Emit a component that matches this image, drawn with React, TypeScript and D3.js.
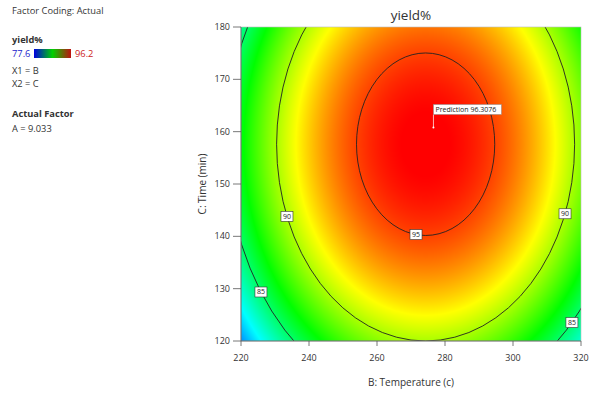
import React, { useMemo } from 'react';
import * as d3 from 'd3';

// fitted quadratic surface (A held at 9.033): yield = peak - kB*(B-B0)^2 - kC*(C-C0)^2
const peak = 96.37;
const centre = [274.3, 157.6];      // B0, C0
const curvature = [0.003316, 0.004506]; // kB, kC

const tempTicks = [220, 240, 260, 280, 300, 320];
const timeTicks = [120, 130, 140, 150, 160, 170, 180];
const contourLevels = [85, 90, 95];
// label spots along each contour (angle on the ellipse, degrees)
const contourLabels = [
  { level: 95, angle: 98 },
  { level: 90, angle: 158.5 },
  { level: 90, angle: 20.7 },
  { level: 85, angle: 145.8 },
  { level: 85, angle: 42.7 },
];
const legendRange = [77.6, 96.2];
const prediction = { B: 276.6, C: 160.8, value: '96.3076' };
const infoLines = ['X1 = B', 'X2 = C'];
const actualFactor = 'A = 9.033';

const W = 596, H = 393;
const left = 241, right = 581, top = 27, bottom = 341;
const font = '"Open Sans", "Noto Sans", sans-serif';

const x = d3.scaleLinear().domain([220, 320]).range([left, right]);
const y = d3.scaleLinear().domain([120, 180]).range([bottom, top]);

const stops = d3.range(5).map(i => legendRange[0] + i * (legendRange[1] - legendRange[0]) / 4);
const color = d3.scaleLinear<string>()
  .domain(stops)
  .range(['#0000ff', '#00ffff', '#00ff00', '#ffff00', '#ff0000'])
  .clamp(true);

function yieldAt(b: number, c: number) {
  return peak - curvature[0] * (b - centre[0]) ** 2 - curvature[1] * (c - centre[1]) ** 2;
}

export default function App() {
  const surface = useMemo(() => {
    const w = right - left, h = bottom - top;
    const canvas = document.createElement('canvas');
    canvas.width = w; canvas.height = h;
    const ctx = canvas.getContext('2d')!;
    const img = ctx.createImageData(w, h);
    for (let j = 0; j < h; j++) {
      for (let i = 0; i < w; i++) {
        const v = yieldAt(x.invert(left + i + 0.5), y.invert(top + j + 0.5));
        const c = d3.rgb(color(v));
        const k = (j * w + i) * 4;
        img.data[k] = c.r; img.data[k + 1] = c.g; img.data[k + 2] = c.b; img.data[k + 3] = 255;
      }
    }
    ctx.putImageData(img, 0, 0);
    return canvas.toDataURL();
  }, []);

  const cx = x(centre[0]), cy = y(centre[1]);
  const radii = (level: number) => {
    const d = peak - level;
    const rb = Math.sqrt(d / curvature[0]), rc = Math.sqrt(d / curvature[1]);
    return [x(centre[0] + rb) - cx, cy - y(centre[1] + rc)];
  };

  const px = x(prediction.B), py = y(prediction.C);

  return (
    <svg width={W} height={H} style={{ position: 'absolute', left: 0, top: 0 }} fontFamily={font}>
      <defs>
        <clipPath id="plot">
          <rect x={left} y={top} width={right - left} height={bottom - top} />
        </clipPath>
        <linearGradient id="leg">
          <stop offset="0%" stopColor="#0000e0" />
          <stop offset="50%" stopColor="#00d000" />
          <stop offset="100%" stopColor="#c01010" />
        </linearGradient>
      </defs>

      {/* side panel */}
      <g fill="#333" fontSize={9.3}>
        <text x={12} y={14}>Factor Coding: Actual</text>
        <text x={12} y={43} fontWeight="bold">yield%</text>
        <text x={12} y={57} fill="#2222cc">{legendRange[0]}</text>
        <rect x={34} y={49} width={37} height={9} fill="url(#leg)" />
        <text x={75} y={57} fill="#cc2222">{legendRange[1]}</text>
        {infoLines.map((t, i) => (
          <text key={t} x={12} y={74 + i * 13}>{t}</text>
        ))}
        <text x={12} y={117} fontWeight="bold">Actual Factor</text>
        <text x={12} y={132}>{actualFactor}</text>
      </g>

      {/* surface */}
      <image href={surface} x={left} y={top} width={right - left} height={bottom - top} />
      <g clipPath="url(#plot)" fill="none" stroke="#222" strokeWidth={0.9}>
        {contourLevels.map(l => {
          const [rx, ry] = radii(l);
          return <ellipse key={l} cx={cx} cy={cy} rx={rx} ry={ry} />;
        })}
      </g>
      <rect x={left} y={top} width={right - left} height={bottom - top} fill="none" stroke="#bbb" strokeWidth={0.6} />

      {contourLabels.map((d, i) => {
        const [rx, ry] = radii(d.level);
        const t = (d.angle * Math.PI) / 180;
        const lx = cx + rx * Math.cos(t), ly = cy + ry * Math.sin(t);
        return (
          <g key={i}>
            <rect x={lx - 6} y={ly - 5} width={12} height={10} fill="#fff" stroke="#333" strokeWidth={0.6} />
            <text x={lx} y={ly + 2.5} fontSize={7} textAnchor="middle" fill="#222">{d.level}</text>
          </g>
        );
      })}

      {/* prediction flag */}
      <line x1={px} y1={py} x2={px} y2={py - 13} stroke="#fff" strokeWidth={0.7} />
      <circle cx={px} cy={py} r={1} fill="#fff" />
      <rect x={px} y={py - 23} width={68} height={10} fill="#fff" stroke="#888" strokeWidth={0.5} />
      <text x={px + 2} y={py - 15.5} fontSize={7} fill="#222">Prediction  {prediction.value}</text>

      {/* axes */}
      <g stroke="#555" strokeWidth={0.8}>
        <line x1={left} x2={right} y1={bottom} y2={bottom} />
        <line x1={left} x2={left} y1={top} y2={bottom} />
        {tempTicks.map(t => <line key={t} x1={x(t)} x2={x(t)} y1={bottom} y2={bottom + 5} />)}
        {timeTicks.map(t => <line key={t} x1={left - 8} x2={left} y1={y(t)} y2={y(t)} />)}
      </g>
      <g fontSize={9} fill="#333">
        {tempTicks.map(t => (
          <text key={t} x={x(t)} y={361} textAnchor="middle">{t}</text>
        ))}
        {timeTicks.map(t => (
          <text key={t} x={230} y={y(t) + 3} textAnchor="end">{t}</text>
        ))}
      </g>
      <text x={(left + right) / 2} y={20} textAnchor="middle" fontSize={13.5} fill="#333">yield%</text>
      <text x={(left + right) / 2} y={386} textAnchor="middle" fontSize={10} fill="#333">B: Temperature (c)</text>
      <text transform={`translate(206,${(top + bottom) / 2}) rotate(-90)`} textAnchor="middle" fontSize={10} fill="#333">C: Time (min)</text>
    </svg>
  );
}
